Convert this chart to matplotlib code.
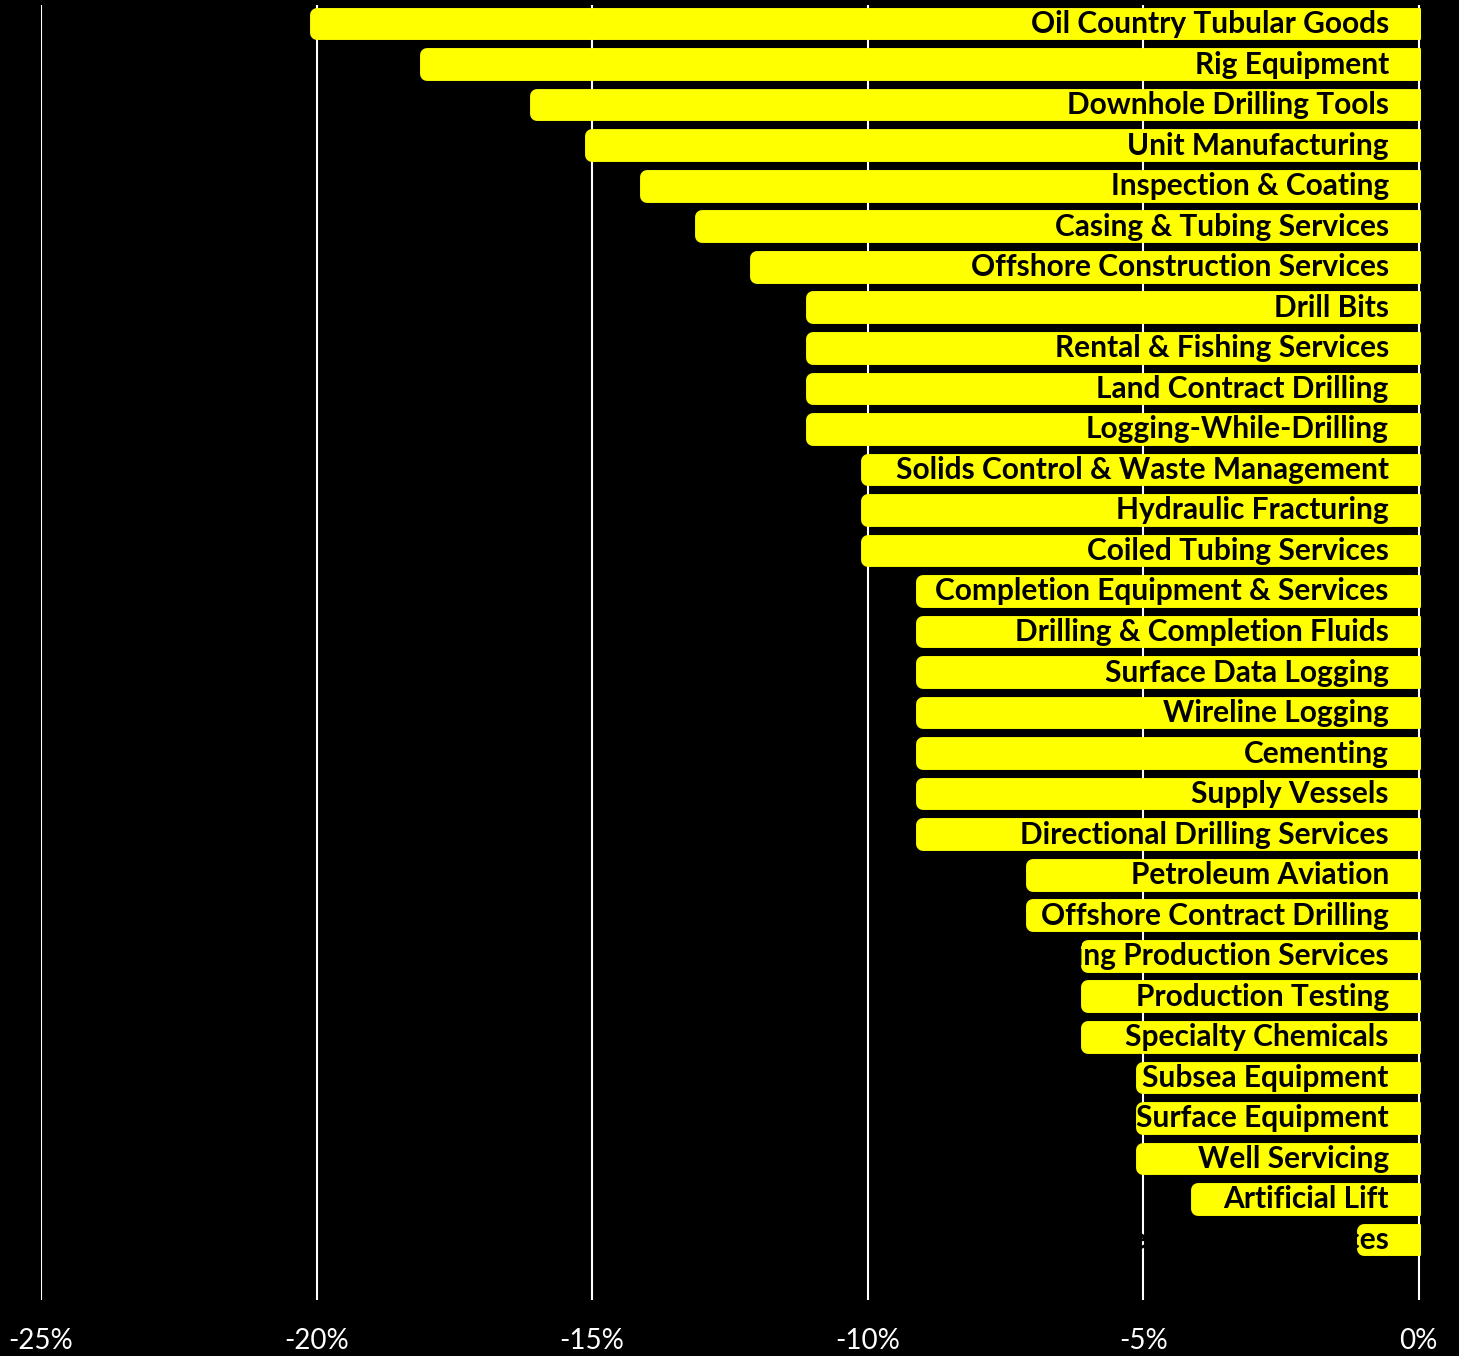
import numpy as np
import matplotlib
matplotlib.use("Agg")
import matplotlib.pyplot as plt
import matplotlib.transforms as mtransforms

# segment names, top to bottom, and change in %
segments = [
    "Oil Country Tubular Goods", "Rig Equipment", "Downhole Drilling Tools",
    "Unit Manufacturing", "Inspection & Coating", "Casing & Tubing Services",
    "Offshore Construction Services", "Drill Bits", "Rental & Fishing Services",
    "Land Contract Drilling", "Logging-While-Drilling",
    "Solids Control & Waste Management", "Hydraulic Fracturing",
    "Coiled Tubing Services", "Completion Equipment & Services",
    "Drilling & Completion Fluids", "Surface Data Logging", "Wireline Logging",
    "Cementing", "Supply Vessels", "Directional Drilling Services",
    "Petroleum Aviation", "Offshore Contract Drilling",
    "Floating Production Services", "Production Testing", "Specialty Chemicals",
    "Subsea Equipment", "Surface Equipment", "Well Servicing", "Artificial Lift",
    "Geophysical Services",
]
change = [-20, -18, -16, -15, -14, -13, -12, -11, -11, -11, -11, -10, -10, -10,
          -9, -9, -9, -9, -9, -9, -9, -7, -7, -6, -6, -6, -5, -5, -5, -4, -1]
xticks = [-25, -20, -15, -10, -5, 0]
xtick_labels = ["-25%", "-20%", "-15%", "-10%", "-5%", "0%"]

W, H = 1459, 1356
fig = plt.figure(figsize=(W / 100, H / 100), dpi=100, facecolor="black")
ax = fig.add_axes([41 / W, 1 - 1300 / H, (1421 - 41) / W, (1300 - 5) / H])
ax.set_facecolor("black")

y = np.arange(len(segments))
for t in xticks:
    ax.axvline(t, color="white", lw=1.5, zorder=1)

# thick yellow outline with round joins gives the rounded bar ends
ax.barh(y, change, height=0.46, color="yellow", edgecolor="yellow",
        linewidth=10, joinstyle="round", zorder=2)

off = mtransforms.offset_copy(ax.transData, fig=fig, x=-30, y=0, units="dots")
for yi, name in zip(y, segments):
    ax.text(0, yi, name, transform=off, ha="right", va="center",
            color="black", fontsize=21.5, fontweight="bold", family="Lato",
            zorder=3)

ax.set_xlim(-25, 0.04)
ax.set_ylim(len(segments) - 1 + 1.48, -0.47)
ax.set_xticks(xticks)
ax.set_xticklabels(xtick_labels, color="white", fontsize=20, family="Lato")
ax.tick_params(axis="x", length=0, pad=20)
ax.set_yticks([])
for s in ax.spines.values():
    s.set_visible(False)

fig.savefig("out.png", dpi=100, facecolor="black")
